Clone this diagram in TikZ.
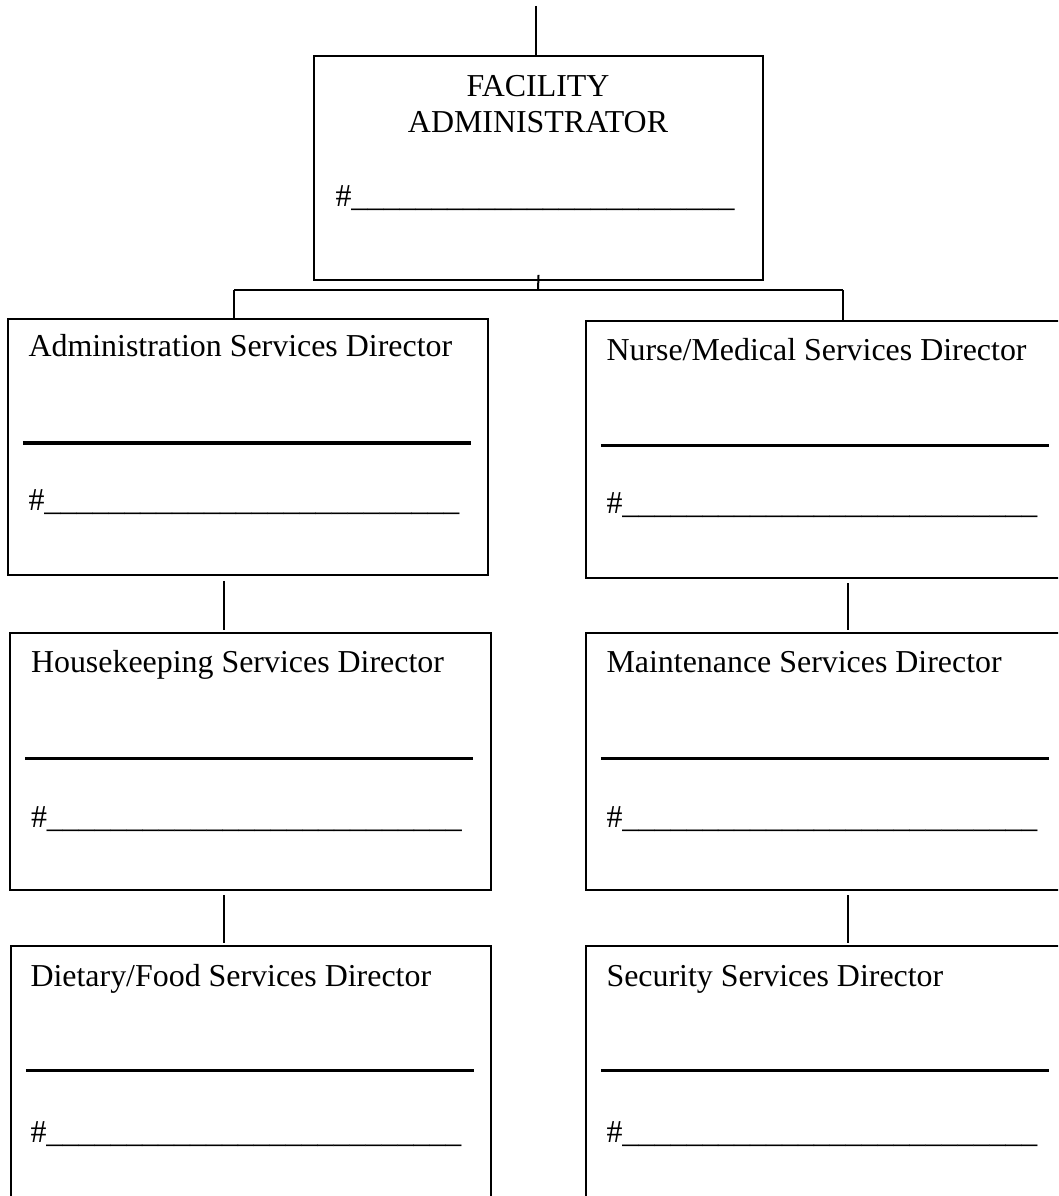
\documentclass[tikz,border=0pt]{standalone}
\usepackage{fontspec}
\setmainfont{Liberation Serif}

\begin{document}
\begin{tikzpicture}[x = 0.376pt, y = -0.376pt, font = \fontsize{12}{14}\selectfont]
	\tikzstyle{directorStyle}=[shape = rectangle, draw, line width = 0.75pt, inner sep = 0pt, minimum width = 180.5pt, minimum height = 96.3pt]
	\tikzstyle{adminStyle}=[directorStyle, minimum width = 168.8pt, minimum height = 84.2pt]
	\tikzstyle{titleStyle}=[anchor = base west, inner sep = 0pt]
	\tikzstyle{signStyle}=[line width = 1.25pt]
	\tikzstyle{linkStyle}=[line width = 0.75pt, shorten <= 1.8pt, shorten >= 0.9pt]
	\path[use as bounding box, clip] (0,0) rectangle (1058,1196);
	% boxes
	\node[adminStyle] (fac) at (538.5,168) {};
	\node[directorStyle] (adm) at (248,447) {};
	\node[directorStyle] (nur) at (826,449.5) {};
	\node[directorStyle] (hsk) at (250.5,761.5) {};
	\node[directorStyle] (mnt) at (826,761.5) {};
	\node[directorStyle] (diet) at (251,1074.5) {};
	\node[directorStyle] (sec) at (826,1074.5) {};
	% top box text
	\node[titleStyle, anchor = base] (facT1) at (538,97) {FACILITY};
	\node[titleStyle, anchor = base] (facT2) at (538,133) {ADMINISTRATOR};
	\node[titleStyle] (facN) at (335,207) {\#\_\_\_\_\_\_\_\_\_\_\_\_\_\_\_\_\_\_\_\_\_\_\_\_};
	% director text
	\node[titleStyle] (admT) at ([shift={(21,39)}]adm.north west) {Administration Services Director};
	\draw[signStyle] ([shift={(16,125)}]adm.north west) -- ++(448,0);
	\node[titleStyle] (admN) at ([shift={(21,193)}]adm.north west) {\#\_\_\_\_\_\_\_\_\_\_\_\_\_\_\_\_\_\_\_\_\_\_\_\_\_\_};
	\node[titleStyle] (nurT) at ([shift={(21,40)}]nur.north west) {Nurse/Medical Services Director};
	\draw[signStyle] ([shift={(16,125)}]nur.north west) -- ++(448,0);
	\node[titleStyle] (nurN) at ([shift={(21,193)}]nur.north west) {\#\_\_\_\_\_\_\_\_\_\_\_\_\_\_\_\_\_\_\_\_\_\_\_\_\_\_};
	\node[titleStyle] (hskT) at ([shift={(21,40)}]hsk.north west) {Housekeeping Services Director};
	\draw[signStyle] ([shift={(16,126)}]hsk.north west) -- ++(448,0);
	\node[titleStyle] (hskN) at ([shift={(21,195)}]hsk.north west) {\#\_\_\_\_\_\_\_\_\_\_\_\_\_\_\_\_\_\_\_\_\_\_\_\_\_\_};
	\node[titleStyle] (mntT) at ([shift={(21,40)}]mnt.north west) {Maintenance Services Director};
	\draw[signStyle] ([shift={(16,126)}]mnt.north west) -- ++(448,0);
	\node[titleStyle] (mntN) at ([shift={(21,195)}]mnt.north west) {\#\_\_\_\_\_\_\_\_\_\_\_\_\_\_\_\_\_\_\_\_\_\_\_\_\_\_};
	\node[titleStyle] (dietT) at ([shift={(20,41)}]diet.north west) {Dietary/Food Services Director};
	\draw[signStyle] ([shift={(16,125)}]diet.north west) -- ++(448,0);
	\node[titleStyle] (dietN) at ([shift={(20,197)}]diet.north west) {\#\_\_\_\_\_\_\_\_\_\_\_\_\_\_\_\_\_\_\_\_\_\_\_\_\_\_};
	\node[titleStyle] (secT) at ([shift={(21,41)}]sec.north west) {Security Services Director};
	\draw[signStyle] ([shift={(16,125)}]sec.north west) -- ++(448,0);
	\node[titleStyle] (secN) at ([shift={(21,197)}]sec.north west) {\#\_\_\_\_\_\_\_\_\_\_\_\_\_\_\_\_\_\_\_\_\_\_\_\_\_\_};
	% connectors
	\coordinate (topEnd) at (536,6);
	\coordinate (fork) at (538,290);
	\coordinate (forkL) at (234,290);
	\coordinate (forkR) at (843,290);
	\coordinate (colL) at (224,0);
	\coordinate (colR) at (848,0);
	\draw[line width = 0.75pt] (topEnd) -- (topEnd |- fac.north);
	\draw[line width = 0.75pt] (fac.south) ++(0,-6) -- (fork);
	\draw[line width = 0.75pt] (forkL) -- (forkR);
	\draw[line width = 0.75pt] (forkL) -- (forkL |- adm.north);
	\draw[line width = 0.75pt] (forkR) -- (forkR |- nur.north);
	\draw[linkStyle] (adm.south -| colL) -- (hsk.north -| colL);
	\draw[linkStyle] (hsk.south -| colL) -- (diet.north -| colL);
	\draw[linkStyle] (nur.south -| colR) -- (mnt.north -| colR);
	\draw[linkStyle] (mnt.south -| colR) -- (sec.north -| colR);
\end{tikzpicture}
\end{document}
